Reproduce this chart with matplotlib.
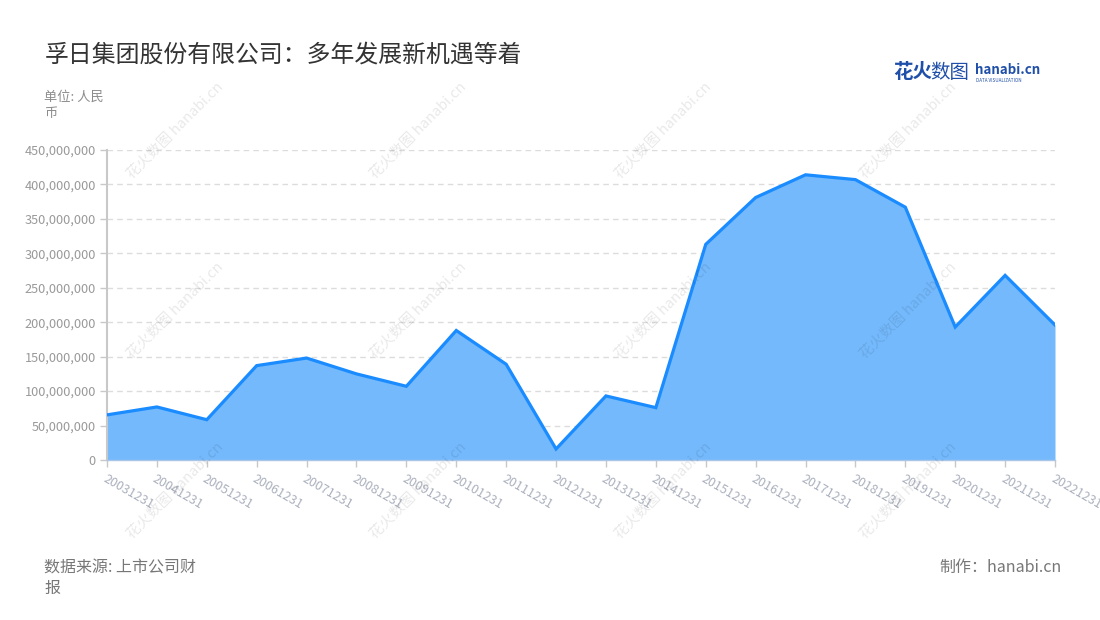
import matplotlib
matplotlib.use("Agg")
import matplotlib.pyplot as plt
from matplotlib.ticker import FuncFormatter, MultipleLocator

plt.rcParams['font.family'] = ['Noto Sans CJK SC', 'DejaVu Sans']

dates = ["20031231", "20041231", "20051231", "20061231", "20071231", "20081231",
         "20091231", "20101231", "20111231", "20121231", "20131231", "20141231",
         "20151231", "20161231", "20171231", "20181231", "20191231", "20201231",
         "20211231", "20221231"]
values = [65.5e6, 77e6, 58.5e6, 137e6, 148e6, 125e6, 107e6, 188e6, 139e6, 16e6,
          93e6, 76e6, 313e6, 381e6, 414e6, 407e6, 367e6, 193e6, 268e6, 196e6]

title = "孚日集团股份有限公司：多年发展新机遇等着"
unit = "单位: 人民\n币"
source = "数据来源: 上市公司财\n报"
maker = "制作：hanabi.cn"

W, H = 1100, 620
fig = plt.figure(figsize=(W / 100, H / 100), dpi=100)
fig.patch.set_facecolor("white")

ax = fig.add_axes([107 / W, 1 - 460 / H, (1055 - 107) / W, 310 / H])
x = list(range(len(dates)))
ax.fill_between(x, values, 0, color="#74b9fc", linewidth=0, zorder=2)
ax.plot(x, values, color="#1a8cff", linewidth=2.3, zorder=3, solid_joinstyle="miter")

ax.set_xlim(0, len(dates) - 1)
ax.set_ylim(0, 450e6)
ax.yaxis.set_major_locator(MultipleLocator(50e6))
ax.yaxis.set_major_formatter(FuncFormatter(lambda v, p: f"{int(round(v)):,}"))
ax.grid(axis="y", color="#dcdcdc", linestyle=(0, (4, 3)), linewidth=1, zorder=0)
ax.set_axisbelow(True)

for s in ["top", "right"]:
    ax.spines[s].set_visible(False)
ax.spines["left"].set_color("#c8c8c8")
ax.spines["left"].set_linewidth(1.5)
ax.spines["bottom"].set_color("#a9c6e8")
ax.spines["bottom"].set_linewidth(1)
ax.spines["bottom"].set_zorder(4)

ax.tick_params(axis="y", colors="#c8c8c8", labelcolor="#999999", labelsize=9.2,
               length=5, width=1, pad=3)
ax.tick_params(axis="x", colors="#c8c8c8", labelcolor="#aab0bd", labelsize=9,
               length=5, width=1, pad=4)
ax.set_xticks(x)
ax.set_xticklabels(dates, rotation=-30, ha="left", va="top", rotation_mode="anchor")

# texts
fig.text(45 / W, 1 - 55 / H, title, fontsize=17.2, color="#333333", ha="left", va="center")
fig.text(44 / W, 1 - 105 / H, unit, fontsize=9.5, color="#8c8c8c", ha="left", va="center",
         linespacing=1.3)
fig.text(44 / W, 1 - 578 / H, source, fontsize=11.5, color="#777777", ha="left", va="center",
         linespacing=1.3)
fig.text(1062 / W, 1 - 567 / H, maker, fontsize=11.5, color="#777777", ha="right", va="center")

# logo
fig.text(893 / W, 1 - 73 / H, "花火", fontsize=14, color="#1f4fa8", fontweight="bold",
         ha="left", va="center")
fig.text(930 / W, 1 - 73 / H, "数图", fontsize=14, color="#1f4fa8", ha="left", va="center")
fig.text(975 / W, 1 - 70 / H, "hanabi.cn", fontsize=9.6, color="#1f4fa8", fontweight="bold",
         ha="left", va="center")
fig.text(976 / W, 1 - 80 / H, "DATA VISUALIZATION", fontsize=3.3, color="#1f4fa8",
         ha="left", va="center")

# watermarks
for cx in [175, 418, 663, 908]:
    for cy in [130, 310, 490]:
        fig.text(cx / W, 1 - cy / H, "花火数图 hanabi.cn", fontsize=10.5, color="#000000",
                 alpha=0.09, rotation=45, ha="center", va="center", zorder=10)

fig.savefig("out.png", dpi=100, facecolor="white")
